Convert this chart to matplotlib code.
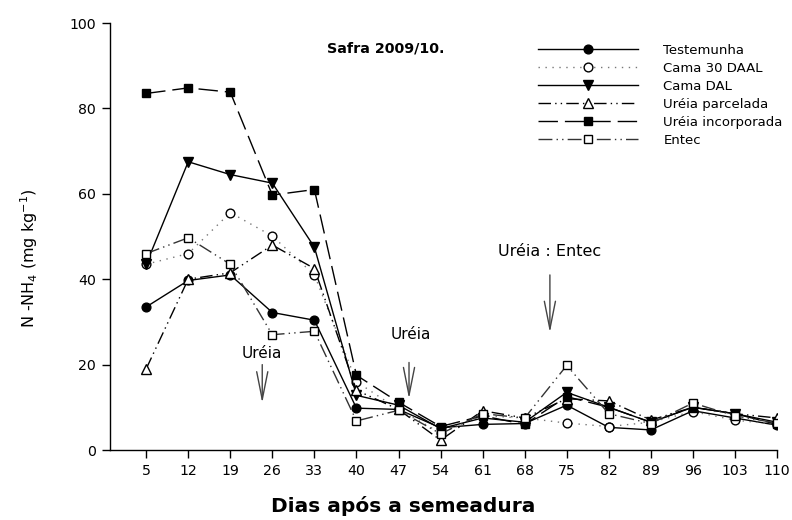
import matplotlib
matplotlib.use("Agg")
import matplotlib.pyplot as plt
import numpy as np

plt.rcParams['font.family'] = ['DejaVu Sans']

# Sampling days after sowing (categorical axis)
days = [5, 12, 19, 26, 33, 40, 47, 54, 61, 68, 75, 82, 89, 96, 103, 110]

# N-NH4 (mg kg-1) per treatment
testemunha = [33.5, 39.7, 41.0, 32.2, 30.4, 9.8, 9.5, 5.2, 6.0, 6.2, 10.5, 5.3, 4.7, 9.2, 7.5, 5.8]
cama_30_daal = [43.5, 46.0, 55.6, 50.1, 41.0, 16.0, 9.5, 4.0, 8.0, 7.5, 6.3, 5.5, 6.5, 9.0, 7.0, 6.0]
cama_dal = [43.5, 67.5, 64.5, 62.5, 47.5, 12.8, 10.5, 5.0, 7.5, 6.5, 13.5, 10.0, 6.5, 10.0, 8.5, 6.5]
ureia_parcelada = [19.0, 40.0, 41.5, 48.0, 42.5, 14.0, 9.5, 2.3, 9.2, 7.5, 12.0, 11.5, 7.0, 10.0, 8.5, 7.5]
ureia_incorporada = [83.5, 84.8, 83.8, 59.7, 61.0, 17.5, 11.2, 5.5, 8.0, 6.0, 12.5, 10.0, 6.5, 10.0, 8.5, 6.0]
entec = [46.0, 49.7, 43.5, 27.0, 27.8, 6.8, 9.3, 3.8, 8.5, 7.5, 19.8, 8.5, 6.2, 11.0, 8.0, 6.3]

series_labels = ["Testemunha", "Cama 30 DAAL", "Cama DAL",
                 "Uréia parcelada", "Uréia incorporada", "Entec"]

fig = plt.figure(figsize=(7.92, 5.2), dpi=100)
ax = fig.add_axes([110 / 792, 1 - 450 / 520, 667 / 792, 427 / 520])

x = np.arange(len(days))
ms = 6.3
lw = 1.0

ax.plot(x, testemunha, color='black', lw=lw, ls='-', marker='o', ms=ms,
        mfc='black', mec='black', label=series_labels[0])
ax.plot(x, cama_30_daal, color='#777777', lw=lw, ls=(0, (1, 4)), marker='o', ms=ms,
        mfc='white', mec='black', mew=1.0, label=series_labels[1])
ax.plot(x, cama_dal, color='black', lw=lw, ls='-', marker='v', ms=ms + 1,
        mfc='black', mec='black', label=series_labels[2])
ax.plot(x, ureia_parcelada, color='black', lw=lw, ls=(0, (9, 3, 1, 3, 1, 3)), marker='^',
        ms=ms + 1, mfc='white', mec='black', mew=1.0, label=series_labels[3])
ax.plot(x, ureia_incorporada, color='black', lw=lw, ls=(0, (14, 5)), marker='s', ms=ms,
        mfc='black', mec='black', label=series_labels[4])
ax.plot(x, entec, color='#333333', lw=lw, ls=(0, (10, 3, 1, 3, 1, 3)), marker='s', ms=ms,
        mfc='white', mec='black', mew=1.0, label=series_labels[5])

ax.set_xlim(-0.86, 15)
ax.set_ylim(0, 100)
ax.set_xticks(x)
ax.set_xticklabels([str(d) for d in days])
ax.set_yticks(np.arange(0, 101, 20))
ax.tick_params(axis='both', direction='out', length=6, width=1, labelsize=10.2, pad=4)
for side in ('top', 'right'):
    ax.spines[side].set_visible(False)
for side in ('left', 'bottom'):
    ax.spines[side].set_linewidth(1.0)

ax.set_xlabel("Dias após a semeadura", fontsize=14.5, fontweight='bold')
ax.xaxis.set_label_coords(0.44, -0.108)
ax.set_ylabel("N -NH$_4$ (mg kg$^{-1}$)", fontsize=11.5)
ax.yaxis.set_label_coords(-0.105, 0.45)

ax.text(5.7, 94, "Safra 2009/10.", fontsize=10.3, fontweight='bold', ha='center', va='center')

# Fertilizer application markers
arrow_kw = dict(arrowstyle='->, head_length=2.0, head_width=0.4', color='#444444', lw=1.0,
                shrinkA=0, shrinkB=0)
ax.annotate("", xy=(2.76, 11.0), xytext=(2.76, 20.0), arrowprops=arrow_kw)
ax.text(2.74, 22.5, "Uréia", fontsize=11, ha='center', va='center')
ax.annotate("", xy=(6.25, 12.0), xytext=(6.25, 20.5), arrowprops=arrow_kw)
ax.text(6.3, 27.0, "Uréia", fontsize=11, ha='center', va='center')
ax.annotate("", xy=(9.6, 27.5), xytext=(9.6, 41.0), arrowprops=arrow_kw)
ax.text(9.6, 46.5, "Uréia : Entec", fontsize=11.5, ha='center', va='center')

leg = ax.legend(loc='upper left', bbox_to_anchor=(538 / 792, 1 - 44 / 520),
                bbox_transform=fig.transFigure, frameon=False, fontsize=9.5,
                handlelength=7.6, handletextpad=1.9, labelspacing=0.38,
                borderpad=0, borderaxespad=0)

fig.savefig("out.png", dpi=100)
